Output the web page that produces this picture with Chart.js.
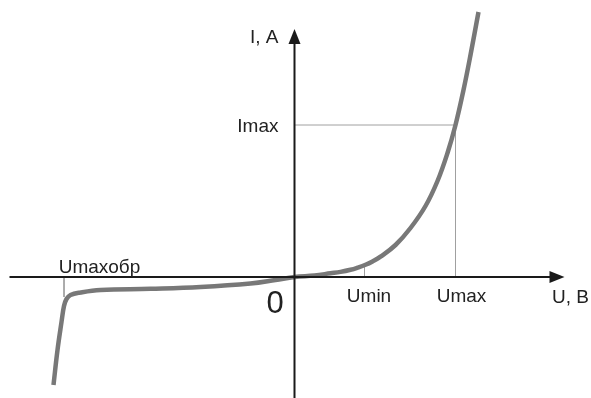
<!DOCTYPE html>
<html>
<head>
<meta charset="utf-8">
<script src="https://cdn.jsdelivr.net/npm/chart.js@4"></script>
<style>
html,body{margin:0;padding:0;background:#fff;}
#wrap{width:591px;height:398px;}
</style>
</head>
<body>
<div id="wrap"><canvas id="c" width="591" height="398"></canvas></div>
<script>
// Diode I-V characteristic (arbitrary units)
const curveU = [-24.1,-23.7,-23.3,-23.05,-22.8,-22.4,-21.4,-19.4,-14.4,-9.4,-4.4,-1.9,0,2.0,3.6,4.6,5.6,6.3,7.1,7.8,8.6,10.1,11.6,13.1,14.3,15.3,16.1,16.9,17.6,18.4];
const curveI = [-10.8,-7.3,-4.5,-2.9,-2.2,-1.8,-1.55,-1.3,-1.18,-1.0,-0.65,-0.3,0,0.15,0.37,0.51,0.72,0.93,1.22,1.56,2.03,3.2,4.9,7.1,9.6,12.4,15.2,18.7,22.2,26.5];
const markU = [-23.05, 7.0, 16.1];        // Umaxобр, Umin, Umax
const markI = [-2.0, 1.1, 15.2];          // curve current at those voltages
const iMax = 15.2;
const tickLabels = ['Umaxобр','Umin','Umax','Imax','0'];
const axisLabels = ['U, B','I, A'];

const curve = curveU.map((u,i)=>({x:u,y:curveI[i]}));
const guideColor = '#a0a0a0';
const guides = [
  {label:'imax', data:[{x:0,y:iMax},{x:markU[2],y:iMax}]},
  {label:'umax', data:[{x:markU[2],y:0},{x:markU[2],y:markI[2]}]},
  {label:'umin', data:[{x:markU[1],y:0},{x:markU[1],y:markI[1]}]},
  {label:'urev', data:[{x:markU[0],y:0},{x:markU[0],y:markI[0]}]}
].map(g=>({label:g.label,data:g.data,showLine:true,borderColor:guideColor,borderWidth:1,pointRadius:0,order:2}));

const overlay = {
  id:'overlay',
  afterDatasetsDraw(chart){
    const ctx = chart.ctx, xs = chart.scales.x, ys = chart.scales.y;
    const X = v=>xs.getPixelForValue(v), Y = v=>ys.getPixelForValue(v);
    ctx.save();
    ctx.strokeStyle = '#1a1a1a'; ctx.fillStyle = '#1a1a1a'; ctx.lineWidth = 2;
    // x axis
    ctx.beginPath(); ctx.moveTo(X(-28.5),Y(0)); ctx.lineTo(X(25.9),Y(0)); ctx.stroke();
    ctx.beginPath(); ctx.moveTo(X(27.0),Y(0)); ctx.lineTo(X(25.5),Y(0)-6); ctx.lineTo(X(25.5),Y(0)+6); ctx.closePath(); ctx.fill();
    // y axis
    ctx.beginPath(); ctx.moveTo(X(0),Y(-12.2)); ctx.lineTo(X(0),Y(23.5)); ctx.stroke();
    ctx.beginPath(); ctx.moveTo(X(0),Y(24.8)); ctx.lineTo(X(0)-6,Y(23.3)); ctx.lineTo(X(0)+6,Y(23.3)); ctx.closePath(); ctx.fill();
    // labels
    ctx.fillStyle = '#222'; ctx.textBaseline = 'alphabetic';
    ctx.font = '19px "Liberation Sans", Arial, sans-serif';
    ctx.textAlign = 'center';
    ctx.fillText(tickLabels[0], X(-19.5), Y(0.4));
    ctx.fillText(tickLabels[1], X(7.45), Y(-2.5));
    ctx.fillText(tickLabels[2], X(16.7), Y(-2.5));
    ctx.fillText(axisLabels[0], X(27.6), Y(-2.6));
    ctx.textAlign = 'right';
    ctx.fillText(tickLabels[3], X(-1.6), Y(iMax-0.7));
    ctx.fillText(axisLabels[1], X(-1.6), Y(23.4));
    ctx.font = '31px "Liberation Sans", Arial, sans-serif';
    ctx.textAlign = 'center';
    ctx.fillText(tickLabels[4], X(-1.95), Y(-3.6));
    ctx.restore();
  }
};

new Chart(document.getElementById('c'), {
  type:'scatter',
  data:{datasets:[
    ...guides,
    {label:'I(U)', data:curve, showLine:true, borderColor:'#787878', borderWidth:4.5, pointRadius:0, tension:0.4, order:1}
  ]},
  options:{
    responsive:false, animation:false,
    layout:{padding:0},
    plugins:{legend:{display:false}, tooltip:{enabled:false}},
    scales:{
      x:{type:'linear', display:false, min:-29.45, max:29.65},
      y:{type:'linear', display:false, min:-12.1, max:27.7}
    }
  },
  plugins:[overlay]
});
</script>
</body>
</html>
